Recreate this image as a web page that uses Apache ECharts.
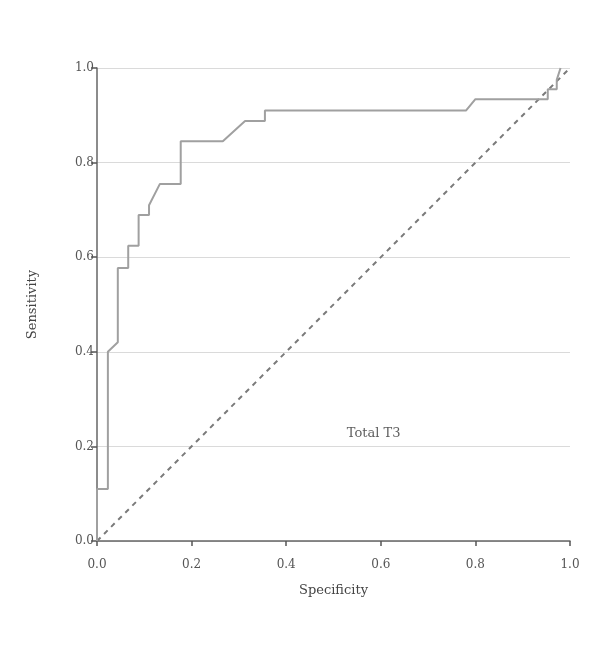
<!DOCTYPE html>
<html><head><meta charset="utf-8">
<script src="https://cdn.jsdelivr.net/npm/echarts@6/dist/echarts.min.js"></script>
<style>html,body{margin:0;padding:0;background:#fff}#c{width:600px;height:648px}</style>
</head><body><div id="c"></div>
<script>
var rocSpecificity = [0, 0, 0.023, 0.023, 0.044, 0.044, 0.066, 0.066, 0.088, 0.088, 0.11, 0.11, 0.133, 0.177, 0.177, 0.266, 0.313, 0.355, 0.355, 0.780, 0.800, 0.953, 0.953, 0.972, 0.972, 0.980];
var rocSensitivity = [0, 0.11, 0.11, 0.40, 0.42, 0.577, 0.577, 0.624, 0.624, 0.689, 0.689, 0.71, 0.755, 0.755, 0.845, 0.845, 0.888, 0.888, 0.910, 0.910, 0.934, 0.934, 0.955, 0.955, 0.975, 1.0];
var refLine = [[0, 0], [1, 1]];
var axisTicks = [0, 0.2, 0.4, 0.6, 0.8, 1.0];
var annotationText = 'Total T3';
var annotationPos = [0.585, 0.228];

var font = '"DejaVu Serif", "Liberation Serif", serif';
var chart = echarts.init(document.getElementById('c'));
chart.setOption({
  animation: false,
  grid: {left: 97, right: 30, top: 68, bottom: 107},
  xAxis: {
    type: 'value', min: 0, max: 1, interval: 0.2,
    name: 'Specificity', nameLocation: 'middle', nameGap: 43,
    nameTextStyle: {fontFamily: font, fontSize: 13, color: '#444'},
    axisLine: {lineStyle: {color: '#666', width: 1.5}},
    axisTick: {show: true, length: 5, lineStyle: {color: '#555', width: 1.5}},
    axisLabel: {fontFamily: font, fontSize: 12, color: '#555', margin: 18, formatter: function(v){return v.toFixed(1);}},
    splitLine: {show: false}
  },
  yAxis: {
    type: 'value', min: 0, max: 1, interval: 0.2,
    name: 'Sensitivity', nameLocation: 'middle', nameGap: 58,
    nameTextStyle: {fontFamily: font, fontSize: 13, color: '#444'},
    axisLine: {lineStyle: {color: '#666', width: 1.5}},
    axisTick: {show: true, length: 6, lineStyle: {color: '#555', width: 1.5}},
    axisLabel: {fontFamily: font, fontSize: 12, color: '#555', margin: 3, formatter: function(v){return v.toFixed(1);}},
    splitLine: {show: true, lineStyle: {color: '#dadada', width: 1}}
  },
  series: [
    {
      type: 'line', symbol: 'none',
      data: refLine,
      lineStyle: {color: '#7a7a7a', width: 2, type: [5, 5]},
      z: 2
    },
    {
      type: 'line', symbol: 'none',
      data: rocSpecificity.map(function(x, i){return [x, rocSensitivity[i]];}),
      lineStyle: {color: '#a0a0a0', width: 2},
      z: 3
    },
    {
      type: 'scatter', symbolSize: 0,
      data: [annotationPos],
      label: {show: true, position: 'inside', formatter: annotationText, fontFamily: font, fontSize: 13, color: '#333'}
    }
  ]
});
</script></body></html>
